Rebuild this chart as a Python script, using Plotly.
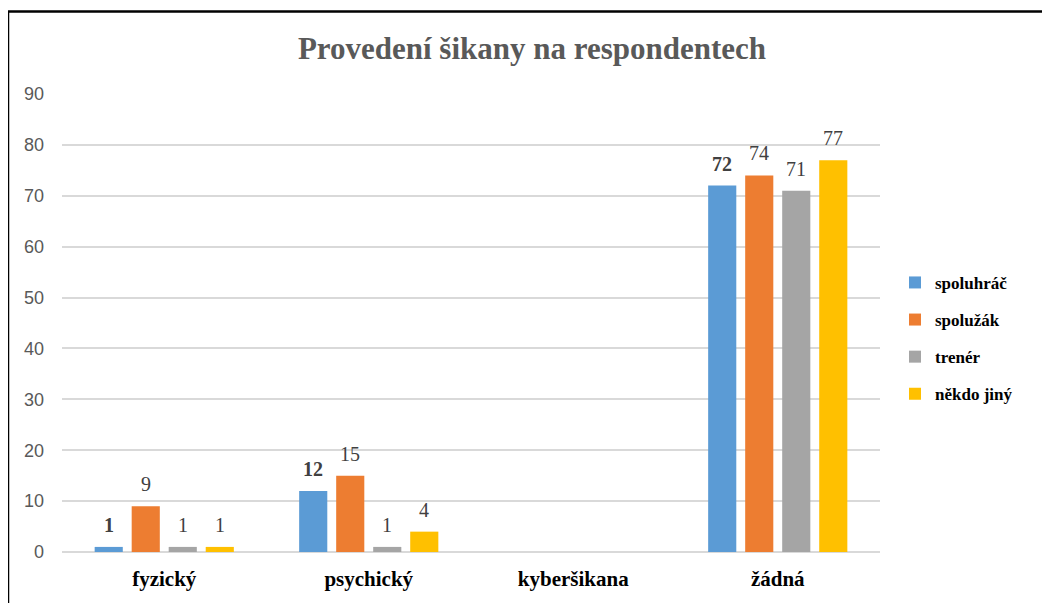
import plotly.graph_objects as go

categories = ["fyzický", "psychický", "kyberšikana", "žádná"]
series_names = ["spoluhráč", "spolužák", "trenér", "někdo jiný"]
spoluhrac = [1, 12, 0, 72]
spoluzak = [9, 15, 0, 74]
trener = [1, 1, 0, 71]
nekdo_jiny = [1, 4, 0, 77]
y_ticks = [0, 10, 20, 30, 40, 50, 60, 70, 80, 90]

series_values = [spoluhrac, spoluzak, trener, nekdo_jiny]
colors = ["#5B9BD5", "#ED7D31", "#A5A5A5", "#FFC000"]

# page has an 8px body margin; figure sized to fit the window
OFF = 8
W, H = 1050 - OFF, 603 - OFF
L, T = 62 - OFF, 94 - OFF
PR, PB = 880 - OFF, 555 - OFF
R, B = W - PR, H - PB
pw, ph = PR - L, PB - T

BARGAP, GROUPGAP = 0.276, 0.24
slot = pw / len(categories) * (1 - BARGAP) / len(series_names)

fig = go.Figure()
annotations = []
for i, (name, vals, col) in enumerate(zip(series_names, series_values, colors)):
    bold = i == 0
    fig.add_trace(go.Bar(
        x=categories, y=vals, name=name,
        marker=dict(color=col, line=dict(width=0)),
        legendgroup=name,
    ))
    for c, v in zip(categories, vals):
        if v == 0:
            continue
        annotations.append(dict(
            x=c, y=v, xref="x", yref="y", showarrow=False,
            text=("<b>%d</b>" % v) if bold else "%d" % v,
            xshift=(i - 1.5) * slot, yshift=22, yanchor="middle",
            font=dict(family="Liberation Serif", size=20, color="#404040"),
        ))

fig.update_layout(
    width=W, height=H,
    margin=dict(l=L, r=R, t=T, b=B),
    paper_bgcolor="white", plot_bgcolor="white",
    barmode="group", bargap=BARGAP, bargroupgap=GROUPGAP,
    title=dict(text="<b>Provedení šikany na respondentech</b>",
               font=dict(family="Liberation Serif", size=31, color="#595959"),
               x=(532 - OFF) / W, xanchor="center", y=1 - (48 - OFF) / H, yanchor="middle"),
    legend=dict(x=(895 - L - OFF) / pw, xanchor="left", y=(PB - (340 - OFF)) / ph, yanchor="middle",
                font=dict(family="Liberation Serif", size=17, color="#000000", weight="bold"),
                traceorder="grouped", tracegroupgap=12, itemwidth=30,
                bgcolor="rgba(0,0,0,0)"),
    showlegend=True,
    annotations=annotations,
)
fig.update_xaxes(showline=False, ticks="", ticklabelstandoff=12,
                 tickfont=dict(family="Liberation Serif", size=21, color="#000000", weight="bold"))
fig.update_yaxes(range=[0, 90], tickvals=y_ticks, showgrid=True, gridcolor="#D9D9D9", gridwidth=1.5,
                 zeroline=True, zerolinecolor="#D9D9D9", zerolinewidth=1.5,
                 ticks="", ticklabelstandoff=17,
                 tickfont=dict(family="Liberation Sans", size=18, color="#595959"))

fig.add_shape(type="rect", xref="paper", yref="paper",
              x0=(8 - OFF - L) / pw, x1=(1070 - OFF - L) / pw,
              y0=(PB - (620 - OFF)) / ph, y1=(PB - (11 - OFF)) / ph,
              line=dict(color="black", width=2.5), layer="above")

fig.write_html("out.html")
